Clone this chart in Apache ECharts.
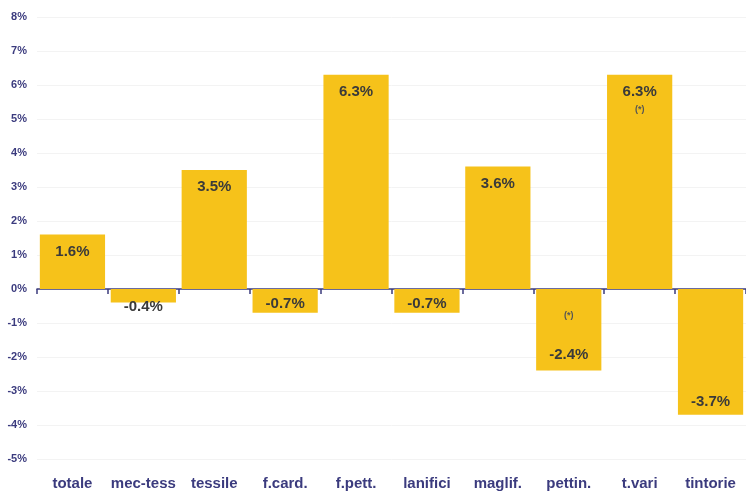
<!DOCTYPE html>
<html><head><meta charset="utf-8">
<script src="https://cdn.jsdelivr.net/npm/echarts@6/dist/echarts.min.js"></script>
<style>html,body{margin:0;padding:0;background:#fff}#c{width:746px;height:491px}</style>
</head><body><div id="c"></div>
<script>
var categories = ['totale','mec-tess','tessile','f.card.','f.pett.','lanifici','maglif.','pettin.','t.vari','tintorie'];
var values = [1.6,-0.4,3.5,-0.7,6.3,-0.7,3.6,-2.4,6.3,-3.7];
var notes = ['','','','','','','','(*)','(*)',''];
var yTicks = [-5,-4,-3,-2,-1,0,1,2,3,4,5,6,7,8];

var FONT = '"Liberation Sans Narrow","Arial Narrow","Liberation Sans",Arial,sans-serif';
var negDist = {1:-5, 3:0, 5:0, 7:7, 9:4};
var data = values.map(function(v,i){
  var lbl;
  if (v >= 0) {
    lbl = {position:'insideTop', distance: 8,
      formatter: notes[i] ? '{b|{c}%}\n{s|' + notes[i] + '}' : '{b|{c}%}'};
  } else if (v > -0.6) {
    lbl = {position:'bottom', distance: negDist[i], formatter:'{b|{c}%}'};
  } else {
    lbl = {position:'insideBottom', distance: negDist[i],
      formatter: notes[i] ? '{s|' + notes[i] + '}\n{g|}\n{b|{c}%}' : '{b|{c}%}'};
  }
  return {value: v, label: lbl};
});

var chart = echarts.init(document.getElementById('c'));
chart.setOption({
  animation:false,
  grid:{left:37, top:17, width:720, bottom:32, containLabel:false},
  xAxis:{type:'category', data:categories,
    axisLine:{onZero:true, lineStyle:{color:'#3b3b7e', width:1.5}},
    axisTick:{show:true, length:5, inside:false, lineStyle:{color:'#3b3b7e', width:1.5}},
    axisLabel:{show:false}
  },
  yAxis:{type:'value', min:-5, max:8, interval:1,
    axisLine:{show:false}, axisTick:{show:false},
    splitLine:{lineStyle:{color:'#f3f3f3', width:1}},
    axisLabel:{formatter:'{value}%', color:'#3b3b7e', fontFamily:FONT, fontWeight:'bold', fontSize:11, margin:10}
  },
  series:[{
    type:'bar', data:data, barCategoryGap:'8%',
    itemStyle:{color:'#F6C21A'},
    label:{show:true, color:'#3a3a3a', fontFamily:FONT, fontWeight:'bold',
      rich:{
        b:{fontSize:15, fontWeight:'bold', color:'#3a3a3a', fontFamily:FONT, lineHeight:18},
        s:{fontSize:9, fontWeight:'bold', color:'#555', fontFamily:FONT, lineHeight:18},
        g:{fontSize:9, lineHeight:21}
      }}
  }]
});
var extra = categories.map(function(c,i){
  var p = chart.convertToPixel({xAxisIndex:0}, c);
  return {type:'text', x:p, y:484, style:{text:c, fill:'#3b3b7e', font:'bold 15px ' + FONT, align:'center', verticalAlign:'middle'}};
});
chart.setOption({graphic:extra});
</script></body></html>
